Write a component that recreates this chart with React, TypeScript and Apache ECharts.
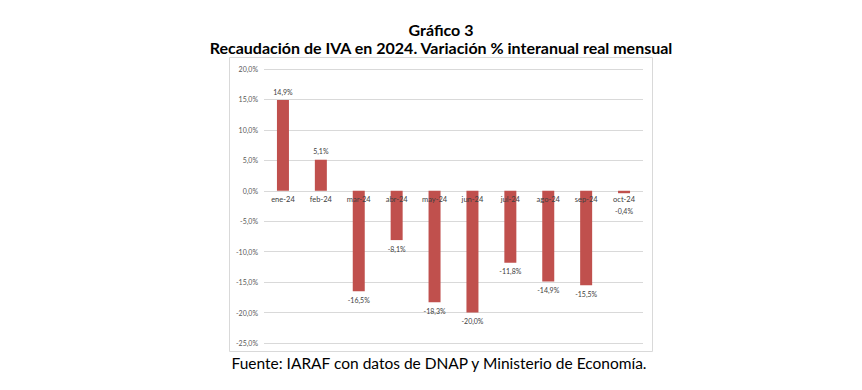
import React, { useEffect, useRef } from "react";
import * as echarts from "echarts";

const categories = ["ene-24", "feb-24", "mar-24", "abr-24", "may-24", "jun-24", "jul-24", "ago-24", "sep-24", "oct-24"];
const values = [14.9, 5.1, -16.5, -8.1, -18.3, -20.0, -11.8, -14.9, -15.5, -0.4];
const titleText = "Gráfico 3";
const subtitleText = "Recaudación de IVA en 2024. Variación % interanual real mensual";
const sourceText = "Fuente: IARAF con datos de DNAP y Ministerio de Economía.";

const fmt = (v: number, d = 1) => v.toFixed(d).replace(".", ",") + "%";

export default function App() {
  const ref = useRef<HTMLDivElement>(null);
  useEffect(() => {
    document.body.style.margin = "0";
    const chart = echarts.init(ref.current!, null, { renderer: "svg" });
    const font = "Lato, 'Open Sans', sans-serif";
    const txt = (text: string, x: number, y: number, size: number, weight: string) => ({
      type: "text",
      x,
      y,
      style: {
        text,
        fill: "#000",
        font: `${weight} ${size}px ${font}`,
        textAlign: "center",
        textVerticalAlign: "middle",
      },
    });
    chart.setOption({
      animation: false,
      backgroundColor: "#ffffff",
      textStyle: { fontFamily: font },
      graphic: [
        { type: "rect", shape: { x: 229.5, y: 57.5, width: 423, height: 294 }, style: { fill: "none", stroke: "#d9d9d9", lineWidth: 1 }, z: -1 },
        txt(titleText, 441, 29, 16, "bold"),
        txt(subtitleText, 441, 47.5, 16, "bold"),
        txt(sourceText, 439, 363, 15.5, "normal"),
      ],
      grid: { left: 264, right: 219, top: 69, bottom: 47 },
      xAxis: {
        type: "category",
        data: categories,
        z: 10,
        offset: -152.5,
        axisLine: { show: false },
        axisTick: { show: false },
        axisLabel: { fontSize: 7.5, color: "#404040", margin: 5, fontFamily: font },
      },
      yAxis: {
        type: "value",
        min: -25,
        max: 20,
        interval: 5,
        axisLine: { show: false },
        axisTick: { show: false },
        axisLabel: { fontSize: 7, color: "#595959", margin: 6, formatter: (v: number) => fmt(v), fontFamily: font },
        splitLine: { lineStyle: { color: "#d9d9d9", width: 1 } },
      },
      series: [
        {
          type: "bar",
          barWidth: 12,
          itemStyle: { color: "#C0504D" },
          data: values.map((v, i) => ({
            value: v,
            label: {
              show: true,
              position: v >= 0 ? "top" : "bottom",
              distance: i === values.length - 1 ? 14 : 5,
              fontSize: 7,
              color: "#404040",
              fontFamily: font,
              formatter: () => fmt(v),
            },
          })),
        },
      ],
    });
    return () => chart.dispose();
  }, []);
  return <div ref={ref} style={{ width: 862, height: 390 }} />;
}
